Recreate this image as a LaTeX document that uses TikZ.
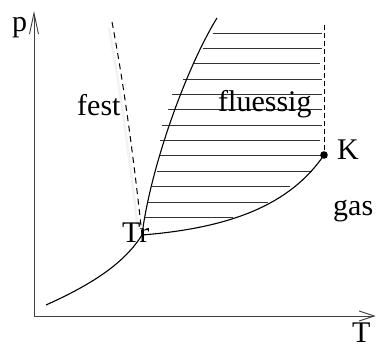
\documentclass[tikz,border=0pt]{standalone}
\usepackage{fontspec}
\setmainfont{Liberation Serif}
\usetikzlibrary{arrows.meta}

\begin{document}
\begin{tikzpicture}[
  x=1pt,y=-1pt,
  font=\fontsize{30}{32}\selectfont,
  ax/.style={draw=black!75,line width=0.9pt},
  cv/.style={draw=black,line width=1.1pt},
  hl/.style={draw=black!80,line width=0.9pt},
  dsh/.style={draw=black,line width=1pt,dash pattern=on 6pt off 4.5pt},
  lb/.style={anchor=base west,inner sep=0pt}
]
\useasboundingbox (0,0) rectangle (377,347);
\coordinate (o) at (34,316);
\coordinate (ptop) at (34,11);
\coordinate (tend) at (375.5,316);
\coordinate (tr) at (142,235);
\coordinate (k) at (324,155);
\coordinate (s0) at (46,305);
\coordinate (m1) at (217,18);
\coordinate (d1) at (112,22);
\coordinate (v1) at (324,25);

\draw[ax,-{Straight Barb[length=21pt,width=9pt]}] (o) -- (ptop);
\draw[ax,-{Straight Barb[length=15pt,width=10pt]}] (o) -- (tend);

\foreach \y/\xa/\xb in {33/213/322,48/203/322,63/193/320,79/183/322,94/172/322,
  109/168/322,125/162/322,140/160/320,155/160/324,171/157/312,186/152/290,
  202/148/268,217/145/233}
  \draw[hl] (\xa,\y) -- (\xb,\y);

\draw[black!5,line width=2.5pt] (109,28) .. controls (121,92) and (131,170) .. (138,230);
\draw[dsh] (d1) .. controls (125,90) and (135,170) .. (tr);
\draw[cv] (s0) .. controls (95,283) and (125,262) .. (tr);
\draw[cv] (tr) .. controls (150,170) and (185,70) .. (m1);
\draw[cv] (tr) .. controls (230,228) and (290,205) .. (k);
\draw[dsh,line width=0.8pt,dash pattern=on 5pt off 3pt] (v1) -- (k);
\fill (k) circle[radius=3.8pt];

\node[lb] (lp) at (12,32) {p};
\node[lb] (lt) at (352,342) {T};
\node[lb] (lfest) at (77,116) {fest};
\node[lb] (lfl) at (218,112) {fluessig};
\node[lb] (lgas) at (333,215) {gas};
\node[lb] (lk) at (337,160) {K};
\node[lb] (ltr) at (122,242) {Tr};
\end{tikzpicture}
\end{document}
